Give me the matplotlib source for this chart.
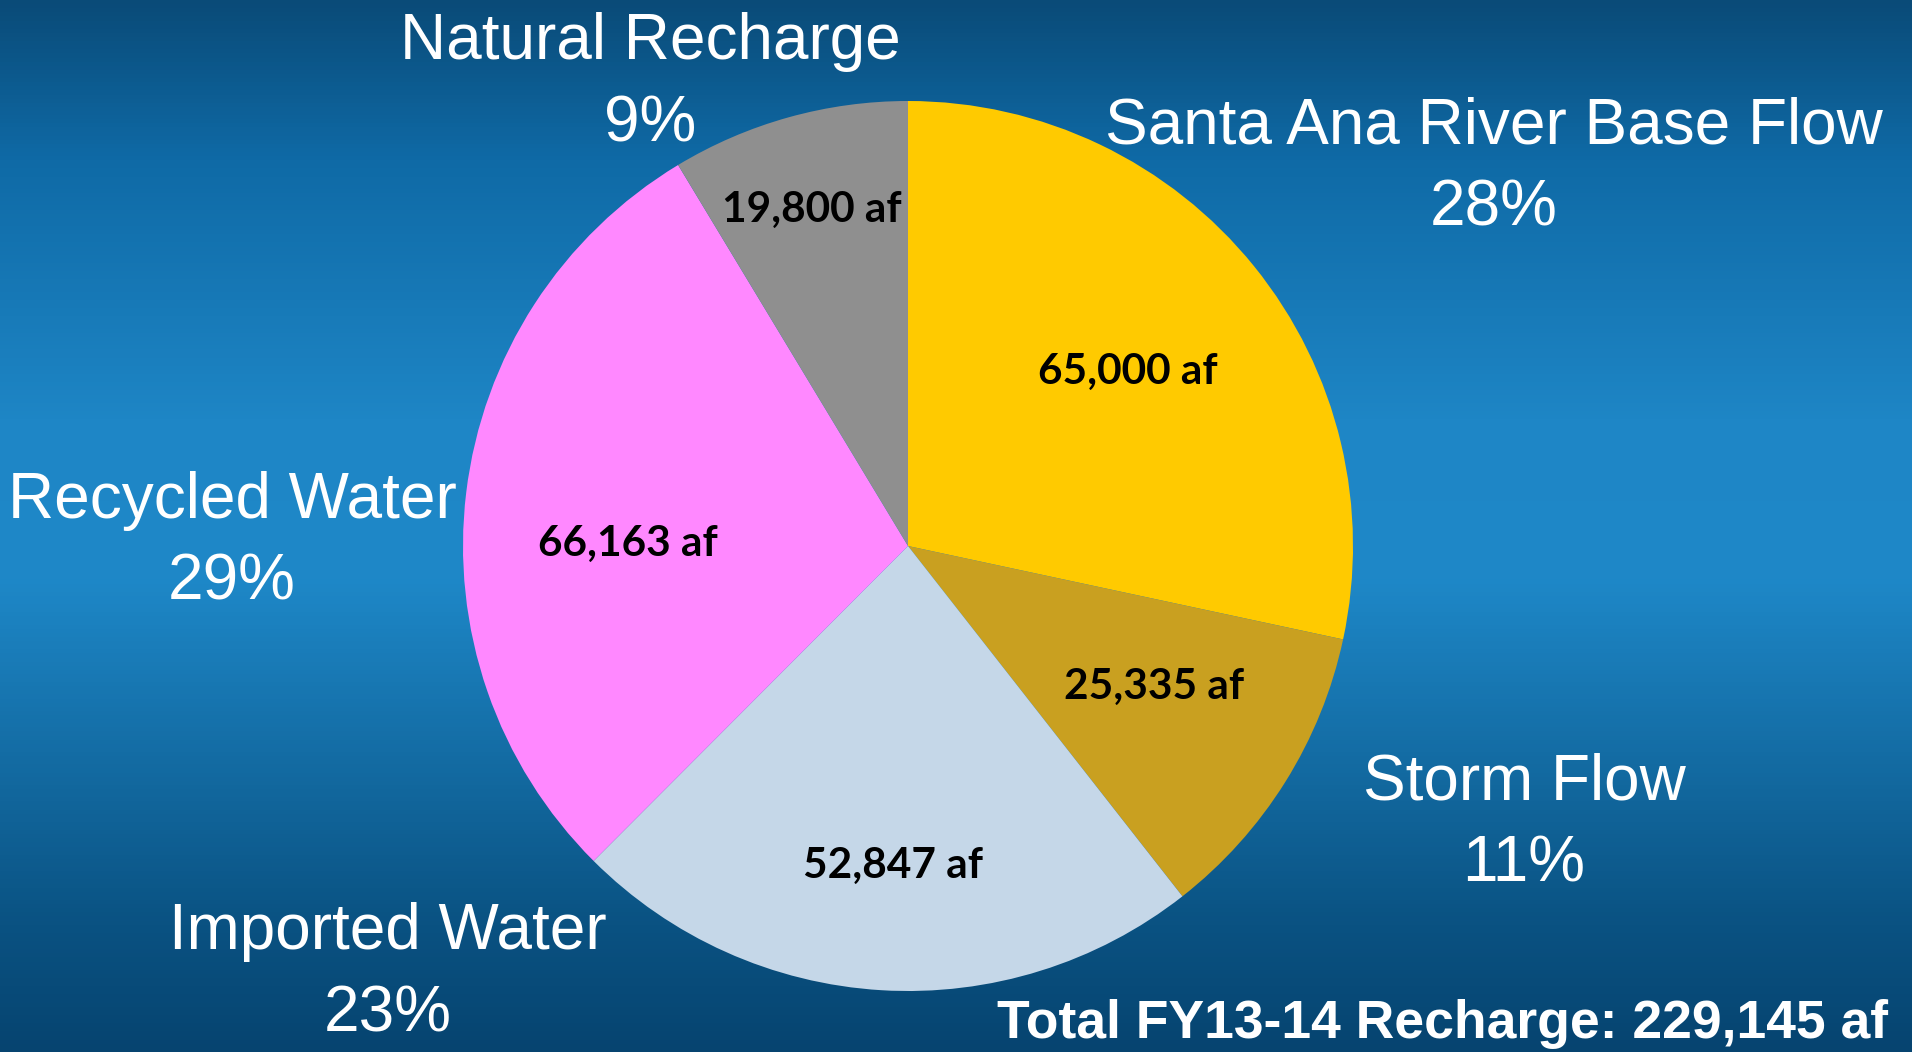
import numpy as np
import matplotlib
matplotlib.use("Agg")
import matplotlib.pyplot as plt
from matplotlib.colors import LinearSegmentedColormap

# donnees de recharge FY13-14 (acre-feet)
sources = ["Santa Ana River Base Flow", "Storm Flow", "Imported Water",
           "Recycled Water", "Natural Recharge"]
volumes_af = [65000, 25335, 52847, 66163, 19800]
couleurs = ["#FFCA00", "#C9A020", "#C5D7E8", "#FF88FF", "#8F8F8F"]
total_af = sum(volumes_af)

W, H = 1912, 1052
fig = plt.figure(figsize=(W / 100, H / 100), dpi=100)
ax = fig.add_axes([0, 0, 1, 1])

# fond bleu en degrade vertical
fond = LinearSegmentedColormap.from_list(
    "fond", [(0.0, "#064470"), (0.12, "#0a5282"), (0.45, "#1e88c8"),
             (0.6, "#1e86c6"), (0.85, "#0f6aa6"), (1.0, "#0a4b78")])
grad = np.linspace(0, 1, 256).reshape(-1, 1)
ax.imshow(grad, cmap=fond, extent=[0, W, 0, H], origin="lower", aspect="auto", zorder=0)

# camembert (centre et rayon en pixels)
cx, cy, r = 908, H - 546, 445
ax.pie(volumes_af, colors=couleurs, startangle=90, counterclock=False,
       center=(cx, cy), radius=r, frame=True,
       wedgeprops=dict(linewidth=0))
ax.set_xlim(0, W)
ax.set_ylim(0, H)
ax.set_aspect("equal")
ax.axis("off")

# position des etiquettes (pixels, origine en haut)
pos_noms = [(1494, 126), (1524, 782), (388, 932), (232, 501), (650, 42)]
pos_valeurs = [(1128, 372), (1154, 687), (893, 866), (628, 544), (812, 210)]

for nom, v, (x, y) in zip(sources, volumes_af, pos_noms):
    pct = round(100 * v / total_af)
    ax.text(x, H - y, nom, color="white", fontsize=46, family="Liberation Sans",
            ha="center", va="center")
    ax.text(x, H - y - 82, f"{pct}%", color="white", fontsize=46,
            family="Liberation Sans", ha="center", va="center")

for v, (x, y) in zip(volumes_af, pos_valeurs):
    ax.text(x, H - y, f"{v:,} af", color="black", fontsize=30.5, fontweight="bold",
            family="Lato", ha="center", va="center")

ax.text(1888, H - 1024, f"Total FY13-14 Recharge: {total_af:,} af", color="white",
        fontsize=38.5, fontweight="bold", family="Liberation Sans",
        ha="right", va="center")

fig.savefig("out.png", dpi=100)
